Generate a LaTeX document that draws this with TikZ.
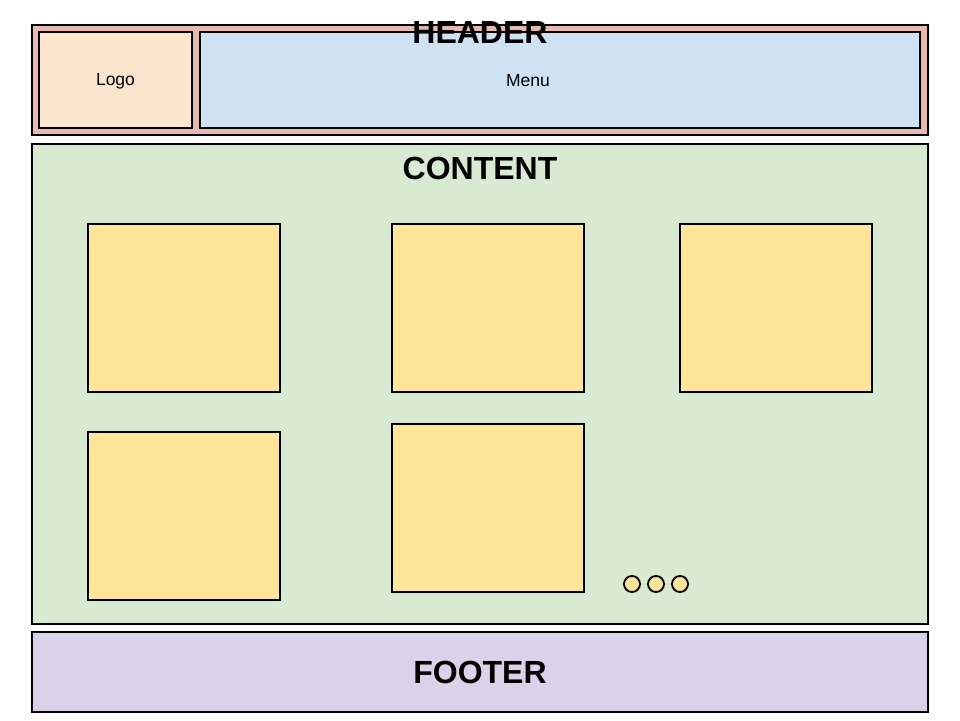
\documentclass[tikz,border=0pt]{standalone}
\usepackage{fontspec}
\setmainfont{Liberation Sans}
\definecolor{hdr}{HTML}{E6B8AF}
\definecolor{logo}{HTML}{FCE5CD}
\definecolor{menu}{HTML}{CFE2F3}
\definecolor{cont}{HTML}{D9EAD3}
\definecolor{foot}{HTML}{D9D2E9}
\definecolor{tile}{HTML}{FFE599}
\begin{document}
\begin{tikzpicture}[x=1pt,y=-1pt,
  box/.style={draw=black,line width=2pt},
  thinbox/.style={draw=black,line width=1.2pt},
  title/.style={font=\fontsize{32}{32}\selectfont\bfseries},
  label/.style={font=\fontsize{17.5}{17.5}\selectfont},
  tilebox/.style={draw=black,line width=1.5pt,fill=tile},
  dot/.style={circle,draw=black,line width=1.8pt,fill=tile,minimum size=16pt,inner sep=0pt}]
\useasboundingbox[fill=white] (0,0) rectangle (960,720);
% header
\draw[box,fill=hdr] (32,25) rectangle (928,135);
\draw[thinbox,fill=logo] (39,32) rectangle (192,128);
\draw[box,fill=menu] (200,32) rectangle (920,128);
\node[label] (logo) at (115.5,81) {Logo};
\node[label] (menu) at (528,81) {Menu};
\node[title] (header) at (480,32) {HEADER};
% content
\draw[box,fill=cont] (32,144) rectangle (928,624);
\node[title] (content) at (480,168) {CONTENT};
\draw[tilebox] (88,224) rectangle (280,392);
\draw[tilebox] (392,224) rectangle (584,392);
\draw[tilebox] (680,224) rectangle (872,392);
\draw[tilebox] (88,432) rectangle (280,600);
\draw[tilebox] (392,424) rectangle (584,592);
\node[dot] (d1) at (632,584) {};
\node[dot] (d2) at (656,584) {};
\node[dot] (d3) at (680,584) {};
% footer
\draw[box,fill=foot] (32,632) rectangle (928,712);
\node[title] (footer) at (480,672) {FOOTER};
\end{tikzpicture}
\end{document}
